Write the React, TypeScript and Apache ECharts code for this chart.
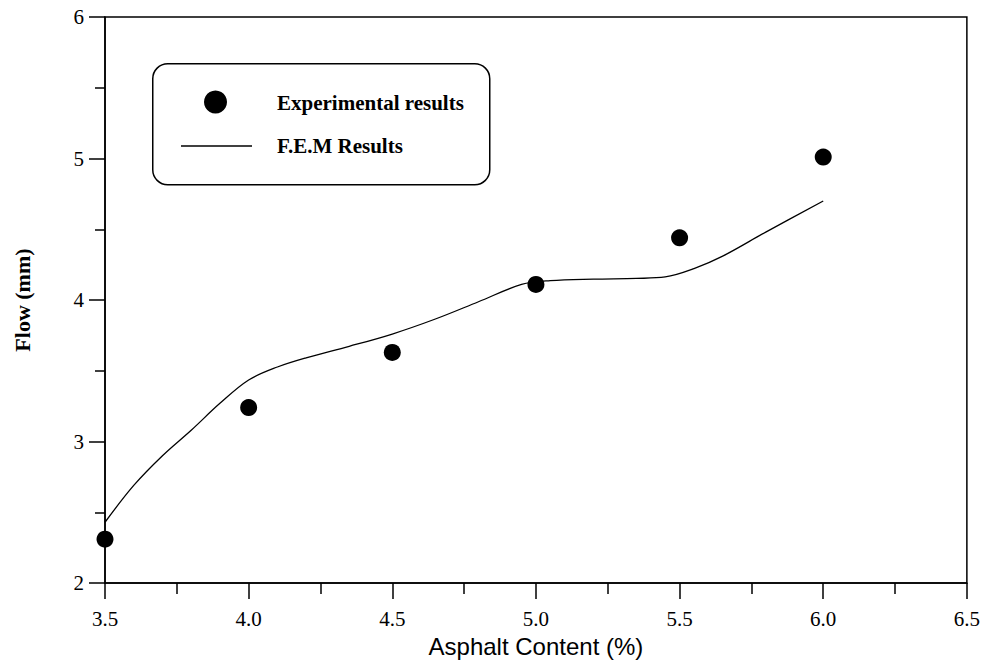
import React, { useEffect, useRef } from "react";
import * as echarts from "echarts";

const expX = [3.5, 4.0, 4.5, 5.0, 5.5, 6.0];
const expY = [2.31, 3.24, 3.63, 4.11, 4.44, 5.01];

const femX = [3.5, 3.6, 3.7, 3.8, 3.9, 4.0, 4.1, 4.2, 4.35, 4.5, 4.65, 4.8, 4.95, 5.05, 5.2, 5.35, 5.45, 5.55, 5.65, 5.8, 6.0];
const femY = [2.43, 2.69, 2.9, 3.08, 3.27, 3.435, 3.527, 3.592, 3.673, 3.76, 3.866, 3.988, 4.11, 4.137, 4.148, 4.153, 4.163, 4.222, 4.31, 4.48, 4.7];

const legendLabels = ["Experimental results", "F.E.M Results"];
const xAxisTitle = "Asphalt Content (%)";
const yAxisTitle = "Flow (mm)";

const SERIF = '"Liberation Serif", "Times New Roman", serif';
const SANS = '"Liberation Sans", Arial, sans-serif';

export default function App() {
  const ref = useRef<HTMLDivElement>(null);
  useEffect(() => {
    if (!ref.current) return;
    const chart = echarts.init(ref.current, undefined, { renderer: "svg" });
    chart.setOption({
      animation: false,
      backgroundColor: "#fff",
      grid: {
        left: 105,
        right: 15,
        top: 17,
        bottom: 79,
        show: true,
        borderColor: "#000",
        borderWidth: 1.5,
        backgroundColor: "transparent",
      },
      xAxis: {
        type: "value",
        min: 3.5,
        max: 6.5,
        interval: 0.5,
        name: xAxisTitle,
        nameLocation: "middle",
        nameGap: 44,
        nameTextStyle: { fontFamily: SANS, fontSize: 24, color: "#000" },
        axisLine: { show: true, lineStyle: { color: "#000", width: 1.5 } },
        axisTick: { show: true, inside: false, length: 16, lineStyle: { color: "#000", width: 1.5 } },
        minorTick: { show: true, splitNumber: 2, length: 11, lineStyle: { color: "#000", width: 1.5 } },
        splitLine: { show: false },
        axisLabel: {
          margin: 25,
          fontFamily: SERIF,
          fontSize: 21,
          color: "#000",
          formatter: (v: number) => v.toFixed(1),
        },
      },
      yAxis: {
        type: "value",
        min: 2,
        max: 6,
        interval: 1,
        name: yAxisTitle,
        nameLocation: "middle",
        nameGap: 72,
        nameTextStyle: { fontFamily: SERIF, fontSize: 22, fontWeight: "bold", color: "#000" },
        axisLine: { show: true, lineStyle: { color: "#000", width: 1.5 } },
        axisTick: { show: true, inside: false, length: 16, lineStyle: { color: "#000", width: 1.5 } },
        minorTick: { show: true, splitNumber: 2, length: 10, lineStyle: { color: "#000", width: 1.5 } },
        splitLine: { show: false },
        axisLabel: {
          margin: 21,
          fontFamily: SERIF,
          fontSize: 21,
          color: "#000",
        },
      },
      series: [
        {
          name: legendLabels[1],
          type: "line",
          data: femX.map((x, i) => [x, femY[i]]),
          smooth: 0.35,
          showSymbol: false,
          symbol: "none",
          lineStyle: { color: "#000", width: 1.3 },
          z: 2,
        },
        {
          name: legendLabels[0],
          type: "scatter",
          data: expX.map((x, i) => [x, expY[i]]),
          symbol: "circle",
          symbolSize: 17,
          itemStyle: { color: "#000", opacity: 1 },
          z: 3,
        },
      ],
      graphic: [
        {
          type: "rect",
          left: 152,
          top: 63,
          shape: { width: 337, height: 121, r: 15 },
          style: { fill: "#fff", stroke: "#000", lineWidth: 1.5 },
          z: 10,
        },
        {
          type: "circle",
          shape: { cx: 215.5, cy: 102, r: 11.5 },
          style: { fill: "#000" },
          z: 11,
        },
        {
          type: "line",
          shape: { x1: 181, y1: 146, x2: 252, y2: 146 },
          style: { stroke: "#000", lineWidth: 1.3 },
          z: 11,
        },
        {
          type: "text",
          x: 277,
          y: 103,
          style: {
            text: legendLabels[0],
            font: `bold 21px ${SERIF}`,
            fill: "#000",
            verticalAlign: "middle",
          },
          z: 11,
        },
        {
          type: "text",
          x: 277,
          y: 146,
          style: {
            text: legendLabels[1],
            font: `bold 21px ${SERIF}`,
            fill: "#000",
            verticalAlign: "middle",
          },
          z: 11,
        },
      ],
    });
    return () => chart.dispose();
  }, []);
  return (
    <div
      ref={ref}
      style={{ position: "fixed", left: 0, top: 0, width: 983, height: 663, background: "#fff" }}
    />
  );
}
